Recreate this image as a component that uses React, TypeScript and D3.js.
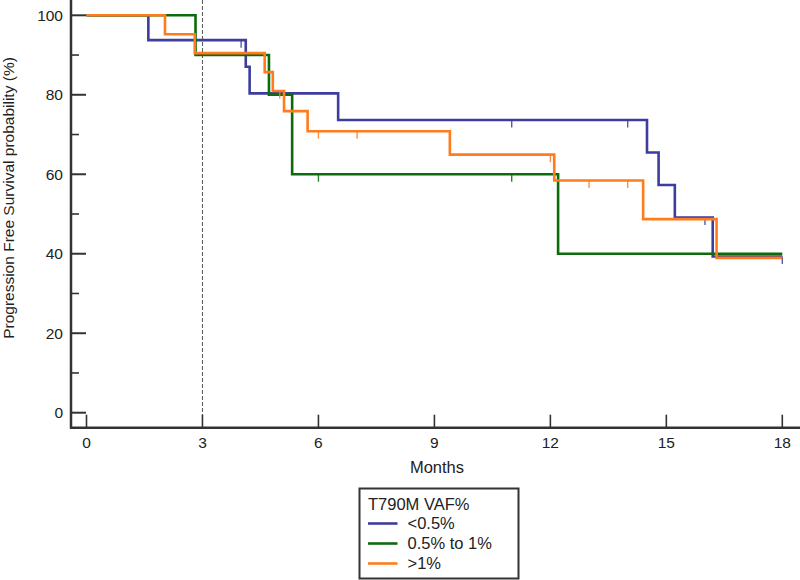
import React from "react";
import * as d3 from "d3";

// ---- Data ----
const xTicks = [0, 3, 6, 9, 12, 15, 18];
const yMajorTicks = [0, 20, 40, 60, 80, 100];
const yMinorTicks = [10, 30, 50, 70, 90];
const landmark = 3;

const seriesNames = ["<0.5%", "0.5% to 1%", ">1%"];
const seriesColors = ["#3d3d9e", "#0d6b0d", "#ff7b1c"];

const blueTimes = [0, 1.6, 4.12, 4.22, 6.51, 14.5, 14.8, 15.22, 16.2, 18];
const blueSurv = [100, 93.75, 87.05, 80.36, 73.66, 65.48, 57.29, 49.11, 39.29, 39.29];
const blueCensor = [4.0, 11.0, 14.0, 16.0, 18.0];

const greenTimes = [0, 2.82, 4.72, 5.32, 12.2, 18];
const greenSurv = [100, 90, 80, 60, 40, 40];
const greenCensor = [6.0, 11.0];

const orangeTimes = [0, 2.03, 2.8, 4.61, 4.82, 5.11, 5.72, 9.4, 12.1, 14.4, 16.3, 18];
const orangeSurv = [100, 95.24, 90.48, 85.71, 80.95, 75.89, 70.83, 64.93, 58.44, 48.7, 38.96, 38.96];
const orangeCensor = [5.0, 6.0, 7.0, 12.0, 13.0, 14.0];

const xTitle = "Months";
const yTitle = "Progression Free Survival probability (%)";
const legendTitle = "T790M VAF%";

const FONT = "'Liberation Sans', Arial, Helvetica, sans-serif";

export default function App() {
  const x = d3.scaleLinear().domain([0, 18]).range([86.5, 782.3]);
  const y = d3.scaleLinear().domain([0, 100]).range([412.7, 15.3]);

  const series = [
    { times: blueTimes, surv: blueSurv, censor: blueCensor },
    { times: greenTimes, surv: greenSurv, censor: greenCensor },
    { times: orangeTimes, surv: orangeSurv, censor: orangeCensor },
  ];

  const line = d3
    .line<[number, number]>()
    .x((d) => x(d[0]))
    .y((d) => y(d[1]))
    .curve(d3.curveStepAfter);

  const levelAt = (times: number[], surv: number[], t: number) => {
    let v = surv[0];
    for (let i = 0; i < times.length; i++) if (times[i] <= t) v = surv[i];
    return v;
  };

  const axisX0 = 71;
  const axisY0 = 427.7;
  const axisColor = "#333";

  return (
    <svg
      width={800}
      height={580}
      style={{ position: "absolute", left: 0, top: 0, background: "#fff" }}
      fontFamily={FONT}
    >
      {/* landmark dashed line */}
      <line
        x1={x(landmark)}
        x2={x(landmark)}
        y1={0}
        y2={axisY0}
        stroke="#555"
        strokeWidth={1}
        strokeDasharray="4,2"
      />

      {/* curves */}
      {series.map((s, i) => (
        <g key={i}>
          <path
            d={line(s.times.map((t, j) => [t, s.surv[j]] as [number, number])) || ""}
            fill="none"
            stroke={seriesColors[i]}
            strokeWidth={2.6}
          />
          {s.censor.map((t, j) => {
            const v = levelAt(s.times, s.surv, t);
            return (
              <line
                key={j}
                x1={x(t)}
                x2={x(t)}
                y1={y(v)}
                y2={y(v) + 7.5}
                stroke={seriesColors[i]}
                strokeWidth={1.4}
                opacity={0.85}
              />
            );
          })}
        </g>
      ))}

      {/* y axis */}
      <line x1={axisX0} x2={axisX0} y1={0} y2={axisY0 + 1} stroke={axisColor} strokeWidth={2.5} />
      {yMajorTicks.map((v) => (
        <g key={"ym" + v}>
          <line x1={axisX0} x2={axisX0 + 15} y1={y(v)} y2={y(v)} stroke={axisColor} strokeWidth={2} />
          <text
            x={63}
            y={y(v)}
            dy="0.35em"
            textAnchor="end"
            fontSize={15.5}
            fill="#222"
          >
            {v}
          </text>
        </g>
      ))}
      {yMinorTicks.map((v) => (
        <line key={"yn" + v} x1={axisX0} x2={axisX0 + 8} y1={y(v)} y2={y(v)} stroke={axisColor} strokeWidth={1.6} />
      ))}

      {/* x axis */}
      <line x1={axisX0 - 1} x2={800} y1={axisY0} y2={axisY0} stroke={axisColor} strokeWidth={2.5} />
      {xTicks.map((t) => (
        <g key={"x" + t}>
          <line x1={x(t)} x2={x(t)} y1={axisY0} y2={axisY0 - 13} stroke={axisColor} strokeWidth={1.6} />
          <text x={x(t)} y={448.3} textAnchor="middle" fontSize={15.5} fill="#222">
            {t}
          </text>
        </g>
      ))}

      {/* axis titles */}
      <text x={437} y={473.3} textAnchor="middle" fontSize={16.5} fill="#222">
        {xTitle}
      </text>
      <text
        transform={`translate(13.5,198) rotate(-90)`}
        textAnchor="middle"
        fontSize={15.5}
        fill="#222"
      >
        {yTitle}
      </text>

      {/* legend */}
      <rect x={359.5} y={488.5} width={159} height={90} fill="#fff" stroke={axisColor} strokeWidth={2} />
      <text x={368} y={509.5} fontSize={16.5} fill="#222">
        {legendTitle}
      </text>
      {seriesNames.map((n, i) => (
        <g key={n}>
          <line
            x1={368}
            x2={397.5}
            y1={523.5 + i * 20}
            y2={523.5 + i * 20}
            stroke={seriesColors[i]}
            strokeWidth={2.6}
          />
          <text x={407.5} y={529.3 + i * 19.6} fontSize={16.5} fill="#222">
            {n}
          </text>
        </g>
      ))}
    </svg>
  );
}
